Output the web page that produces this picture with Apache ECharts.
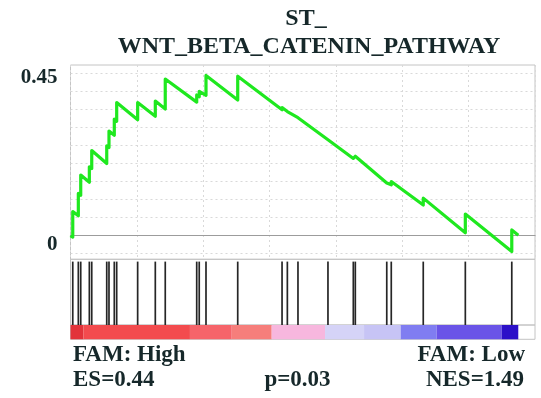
<!DOCTYPE html>
<html>
<head>
<meta charset="utf-8">
<script src="https://cdn.jsdelivr.net/npm/echarts@6/dist/echarts.min.js"></script>
<style>
  html, body { margin: 0; padding: 0; background: #ffffff; }
  #chart { width: 541px; height: 398px; }
</style>
</head>
<body>
<div id="chart"></div>
<script>
// Gene set and summary statistics
const setTitleLines = ['ST_', 'WNT_BETA_CATENIN_PATHWAY'];
const phenoHigh = 'FAM: High';
const phenoLow = 'FAM: Low';
const esText = 'ES=0.44';
const pText = 'p=0.03';
const nesText = 'NES=1.49';

// Ranked list length shown on the x scale
const rankAxisMax = 35000;
const rankAxisStep = 5000;

// Positions of the gene-set members in the ranked list
const hitRanks = [170, 590, 770, 1420, 1600, 2730, 2900, 3300, 3480, 5060, 6390, 7140,
  9510, 9700, 10210, 12600, 15940, 16340, 17140, 19400, 21310, 21460, 23830, 24170,
  26580, 29750, 33250];

// Running enrichment score: vertices (before / after each hit)
const curveRanks = [0,
  170, 170, 590, 590, 770, 770, 1420, 1420, 1600, 1600, 2730, 2730, 2900, 2900,
  3300, 3300, 3480, 3480, 5060, 5060, 6390, 6390, 7140, 7140, 9510, 9510,
  9700, 9700, 10210, 10210, 12600, 12600, 15940, 15940, 16340, 16340, 17140, 17140,
  19400, 19400, 21310, 21310, 21460, 21460, 23830, 23830, 24170, 24170,
  26580, 26580, 29750, 29750, 33250, 33250, 33740];
const curveScores = [0.000,
  -0.004, 0.067, 0.055, 0.117, 0.112, 0.168, 0.148, 0.191, 0.186, 0.236, 0.200, 0.249, 0.244, 0.290,
  0.278, 0.323, 0.317, 0.369, 0.321, 0.369, 0.331, 0.373, 0.351, 0.434, 0.370, 0.390,
  0.385, 0.400, 0.389, 0.444, 0.376, 0.442, 0.349, 0.355, 0.344, 0.349, 0.327, 0.332,
  0.266, 0.270, 0.214, 0.219, 0.215, 0.220, 0.146, 0.151, 0.141, 0.150,
  0.085, 0.104, 0.008, 0.060, -0.044, 0.016, 0.001];

// Ranked-metric colour bar: segment boundaries (ranks) and fills
const colorBounds = [0, 965, 9000, 12150, 15160, 19180, 22120, 24880, 27590, 32490, 33740];
const colorBarFills = ['#e2333a', '#f34b4e', '#f6646a', '#f67e7b', '#f7b7de',
  '#d5d3f7', '#c7c4f5', '#807df1', '#6a54e7', '#2c10c8'];

// Y tick labels that are printed
const yTickLabels = ['0', '0.45'];

const serif = '"Liberation Serif", "DejaVu Serif", serif';
const ink = '#16282a';
const gridGray = '#d9d9d9';
const frameGray = '#c4c4c4';

const plotLeft = 70.5;
const plotWidth = 464.5;

const chart = echarts.init(document.getElementById('chart'), null, { renderer: 'canvas' });

const curveData = curveRanks.map((r, i) => [r, curveScores[i]]);
const hitData = hitRanks.map(r => [r]);
const barData = colorBarFills.map((c, i) => [colorBounds[i], colorBounds[i + 1], i]);

function rankAxis(gridIndex, extra) {
  return Object.assign({
    type: 'value', gridIndex, min: 0, max: rankAxisMax, interval: rankAxisStep,
    axisLabel: { show: false }, axisTick: { show: false },
    axisLine: { show: false }, splitLine: { show: false }
  }, extra || {});
}

function unitAxis(gridIndex) {
  return { type: 'value', gridIndex, min: 0, max: 1, show: false };
}

const labelFont = { color: ink, fontFamily: serif, fontWeight: 'bold', fontSize: 21 };

const option = {
  animation: false,
  backgroundColor: '#ffffff',
  grid: [
    // upper frame with vertical guides
    { left: plotLeft, top: 65, width: plotWidth, height: 194.3, show: true,
      borderColor: frameGray, borderWidth: 1, backgroundColor: 'transparent' },
    // enrichment score area
    { left: plotLeft, top: 73.3, width: plotWidth, height: 180.4 },
    // hit marks
    { left: plotLeft, top: 259.3, width: plotWidth, height: 65.7, show: true,
      borderColor: frameGray, borderWidth: 1, backgroundColor: 'transparent' },
    // colour bar
    { left: plotLeft, top: 325, width: plotWidth, height: 14.3, show: true,
      borderColor: frameGray, borderWidth: 1, backgroundColor: 'transparent' }
  ],
  xAxis: [
    rankAxis(0, { splitLine: { show: true, lineStyle: { color: gridGray, type: [2, 3], width: 1 } } }),
    rankAxis(1, { axisLine: { show: true, onZero: true, lineStyle: { color: '#9c9c9c', width: 1.2 } } }),
    rankAxis(2),
    rankAxis(3)
  ],
  yAxis: [
    unitAxis(0),
    {
      type: 'value', gridIndex: 1, min: -0.05, max: 0.45, interval: 0.05,
      axisLine: { show: false }, axisTick: { show: false },
      splitLine: { show: true, lineStyle: { color: gridGray, type: [2, 3], width: 1 } },
      axisLabel: {
        show: true, margin: 13, verticalAlign: 'top',
        color: ink, fontFamily: serif, fontWeight: 'bold', fontSize: 21,
        formatter: v => {
          const s = String(Math.round(v * 100) / 100);
          if (yTickLabels.indexOf(s) < 0) return '';
          return s === '0' ? '{lo|' + s + '}' : '{hi|' + s + '}';
        },
        rich: {
          hi: Object.assign({ lineHeight: 8 }, labelFont),
          lo: Object.assign({ lineHeight: 18 }, labelFont)
        }
      }
    },
    unitAxis(2),
    unitAxis(3)
  ],
  series: [
    {
      type: 'line', xAxisIndex: 1, yAxisIndex: 1, data: curveData,
      showSymbol: false, symbol: 'none', smooth: false, z: 5,
      lineStyle: { color: '#1fe81f', width: 3.2, join: 'round' }
    },
    {
      type: 'custom', xAxisIndex: 2, yAxisIndex: 2, data: hitData,
      encode: { x: 0 },
      renderItem: (params, api) => {
        const bottom = api.coord([api.value(0), 0]);
        const top = api.coord([api.value(0), 0.965]);
        return {
          type: 'line',
          shape: { x1: bottom[0], y1: bottom[1], x2: top[0], y2: top[1] },
          style: { stroke: '#262626', lineWidth: 1.7 }
        };
      }
    },
    {
      type: 'custom', xAxisIndex: 3, yAxisIndex: 3, data: barData,
      encode: { x: [0, 1] },
      renderItem: (params, api) => {
        const p0 = api.coord([api.value(0), 1]);
        const p1 = api.coord([api.value(1), 0]);
        return {
          type: 'rect',
          shape: { x: p0[0], y: p0[1], width: p1[0] - p0[0], height: p1[1] - p0[1] },
          style: { fill: colorBarFills[api.value(2)] }
        };
      }
    }
  ],
  graphic: [
    { type: 'text', x: 306, y: 19, style: { text: setTitleLines[0], fill: ink, font: 'bold 24px ' + serif, align: 'center', verticalAlign: 'middle' } },
    { type: 'text', x: 309, y: 47, style: { text: setTitleLines[1], fill: ink, font: 'bold 24px ' + serif, align: 'center', verticalAlign: 'middle' } },
    { type: 'text', x: 73, y: 355.5, style: { text: phenoHigh, fill: ink, font: 'bold 23px ' + serif, align: 'left', verticalAlign: 'middle' } },
    { type: 'text', x: 73, y: 380.5, style: { text: esText, fill: ink, font: 'bold 23px ' + serif, align: 'left', verticalAlign: 'middle' } },
    { type: 'text', x: 297.5, y: 380.5, style: { text: pText, fill: ink, font: 'bold 23px ' + serif, align: 'center', verticalAlign: 'middle' } },
    { type: 'text', x: 525, y: 355.5, style: { text: phenoLow, fill: ink, font: 'bold 23px ' + serif, align: 'right', verticalAlign: 'middle' } },
    { type: 'text', x: 524, y: 380.5, style: { text: nesText, fill: ink, font: 'bold 23px ' + serif, align: 'right', verticalAlign: 'middle' } }
  ]
};

chart.setOption(option);
</script>
</body>
</html>
